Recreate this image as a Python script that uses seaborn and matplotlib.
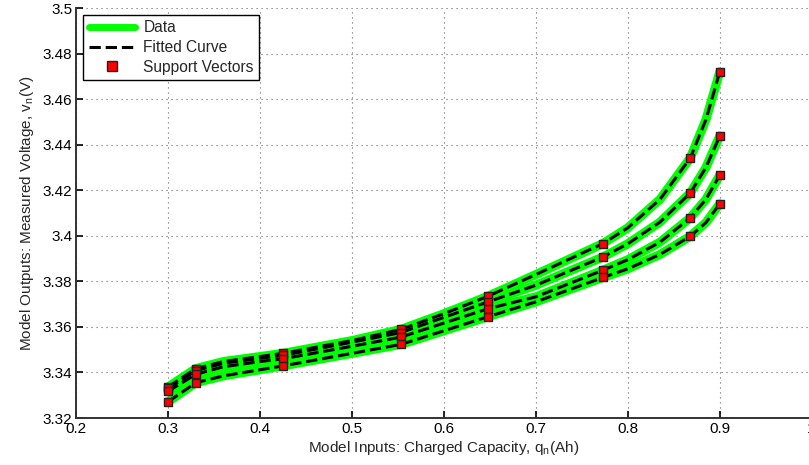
import numpy as np
import pandas as pd
import matplotlib
matplotlib.use("Agg")
import matplotlib.pyplot as plt
import seaborn as sns
from matplotlib.lines import Line2D
from matplotlib.ticker import FuncFormatter

charge = [0.30, 0.33, 0.36, 0.40, 0.425, 0.50, 0.553, 0.60, 0.648, 0.70,
          0.773, 0.80, 0.835, 0.868, 0.885, 0.90]

# measured voltage (V) for the four curves, top to bottom at the right end
volt_a = [3.3337, 3.3417, 3.3448, 3.3470, 3.3484, 3.3540, 3.3589, 3.3658, 3.3735, 3.3830,
          3.3966, 3.4035, 3.4160, 3.4342, 3.4510, 3.4719]
volt_b = [3.3330, 3.3408, 3.3440, 3.3462, 3.3475, 3.3533, 3.3575, 3.3642, 3.3710, 3.3783,
          3.3907, 3.3965, 3.4060, 3.4188, 3.4300, 3.4438]
volt_c = [3.3318, 3.3392, 3.3425, 3.3448, 3.3460, 3.3515, 3.3555, 3.3617, 3.3680, 3.3732,
          3.3849, 3.3895, 3.3972, 3.4079, 3.4160, 3.4266]
volt_d = [3.3272, 3.3355, 3.3385, 3.3412, 3.3429, 3.3484, 3.3523, 3.3583, 3.3645, 3.3710,
          3.3817, 3.3855, 3.3918, 3.3998, 3.4058, 3.4140]

# charge values that are support vectors
support_q = [0.30, 0.33, 0.425, 0.553, 0.648, 0.773, 0.868, 0.90]

curves = {"a": volt_a, "b": volt_b, "c": volt_c, "d": volt_d}
df = pd.concat([pd.DataFrame({"q": charge, "v": v, "curve": k}) for k, v in curves.items()],
               ignore_index=True)
sv = df[df["q"].isin(support_q)]

sns.set_style("white")
plt.rcParams["font.family"] = ["Liberation Sans", "DejaVu Sans"]
plt.rcParams["mathtext.fontset"] = "custom"
plt.rcParams["mathtext.rm"] = "Liberation Sans"

fig = plt.figure(figsize=(8.09, 4.65), dpi=100)
W, H = 809, 465
ax = fig.add_axes([76.4 / W, (H - 418) / H, 735.2 / W, 410 / H])

# data lines, fitted curves and support vectors
sns.lineplot(data=df, x="q", y="v", units="curve", estimator=None, sort=False,
             color="#00ff00", lw=6.5, ax=ax, zorder=2)
sns.lineplot(data=df, x="q", y="v", units="curve", estimator=None, sort=False,
             color="black", lw=2.2, linestyle="--", ax=ax, zorder=3)
sns.scatterplot(data=sv, x="q", y="v", marker="s", color="#ff0000", edgecolor="#222222",
                linewidth=1.0, s=40, ax=ax, zorder=4)

ax.set_xlim(0.2, 1.0)
ax.set_ylim(3.32, 3.5)
ax.set_xticks(np.arange(0.2, 1.01, 0.1))
ax.set_yticks(np.arange(3.32, 3.501, 0.02))
ax.xaxis.set_major_formatter(FuncFormatter(lambda x, p: f"{round(x, 1):g}"))
ax.yaxis.set_major_formatter(FuncFormatter(lambda y, p: f"{round(y, 2):g}"))

ax.grid(True, linestyle=(0, (1, 3.5)), color="#666666", lw=0.8)
ax.tick_params(direction="in", length=5, width=1.2, labelsize=11, colors="black",
               pad=3, bottom=True, left=True)
for side in ["top", "right"]:
    ax.spines[side].set_visible(False)
for side in ["left", "bottom"]:
    ax.spines[side].set_color("#333333")
    ax.spines[side].set_linewidth(1.4)

ax.set_xlabel(r"Model Inputs: Charged Capacity, q$_\mathregular{n}$(Ah)", fontsize=11, labelpad=2)
ax.set_ylabel(r"Model Outputs: Measured Voltage, v$_\mathregular{n}$(V)", fontsize=11, labelpad=5)

handles = [
    Line2D([], [], color="#00ff00", lw=5),
    Line2D([], [], color="black", lw=2.2, linestyle="--"),
    Line2D([], [], color="#ff0000", marker="s", markeredgecolor="#222222",
           markersize=6.5, linestyle="none"),
]
leg = ax.legend(handles, ["Data", "Fitted Curve", "Support Vectors"], loc="upper left",
                bbox_to_anchor=(0.0095, 0.983), fontsize=11.2, frameon=True, fancybox=False,
                edgecolor="black", framealpha=1, borderpad=0.35, labelspacing=0.3,
                handlelength=3.0, handletextpad=0.5, borderaxespad=0)
leg.get_frame().set_linewidth(1.0)

fig.savefig("out.png", dpi=100)
